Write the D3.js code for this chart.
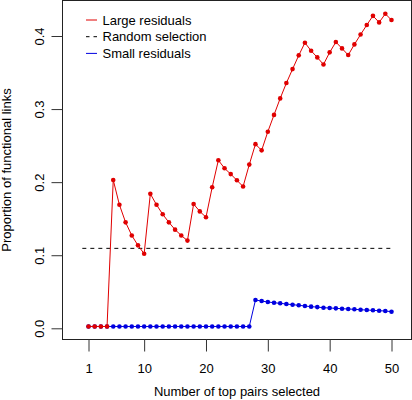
<!DOCTYPE html>
<html><head><meta charset="utf-8">
<script src="https://cdn.jsdelivr.net/npm/d3@7"></script>
<style>body{margin:0;background:#fff}svg{display:block;font-family:"Liberation Sans",Arial,sans-serif}</style>
</head><body>
<svg id="c" width="412" height="400"></svg>
<script>
const xValues = d3.range(1, 51);
const largeResiduals = [0.0025,0.0025,0.0025,0.0025,0.203,0.169,0.145,0.127,0.1135,0.102,
  0.184,0.169,0.156,0.145,0.135,0.127,0.120,0.170,0.160,0.152,
  0.193,0.230,0.219,0.211,0.2025,0.194,0.224,0.252,0.2435,0.269,
  0.292,0.3146,0.3356,0.3547,0.3735,0.3907,0.3798,0.3707,0.361,0.3776,
  0.3917,0.383,0.3739,0.3885,0.402,0.415,0.4276,0.4186,0.4304,0.4218];
const smallResiduals = [0.0025,0.0025,0.0025,0.0025,0.0025,0.0025,0.0025,0.0025,0.0025,0.0025,
  0.0025,0.0025,0.0025,0.0025,0.0025,0.0025,0.0025,0.0025,0.0025,0.0025,
  0.0025,0.0025,0.0025,0.0025,0.0025,0.0025,0.0025,0.0387,0.0373,0.036,
  0.035,0.0342,0.0332,0.0323,0.0315,0.0305,0.0296,0.029,0.0282,0.0278,
  0.0273,0.0268,0.0264,0.026,0.0254,0.025,0.0246,0.024,0.0237,0.0227];
const randomSelection = 0.1094;
const randomRange = [0, 50];
const xTicks = [1, 10, 20, 30, 40, 50];
const yTicks = [0, 0.1, 0.2, 0.3, 0.4];
const legendLabels = ["Large residuals", "Random selection", "Small residuals"];
const xTitle = "Number of top pairs selected";
const yTitle = "Proportion of functional links";

const svg = d3.select("#c");
const x = d3.scaleLinear().domain([1, 50]).range([88.5, 391.5]);
const y = d3.scaleLinear().domain([0, 0.4]).range([328.3, 36]);
const box = {l: 62.5, t: 0.5, r: 411.5, b: 339.5};

svg.append("rect").attr("x", box.l).attr("y", box.t)
  .attr("width", box.r - box.l).attr("height", box.b - box.t)
  .attr("fill", "none").attr("stroke", "#222").attr("stroke-width", 1);

// x axis
const xa = svg.append("g").attr("transform", `translate(0,${box.b})`)
  .call(d3.axisBottom(x).tickValues(xTicks).tickSize(12).tickSizeOuter(0).tickPadding(10).tickFormat(d3.format("d")));
xa.select(".domain").remove();
xa.selectAll("line").attr("stroke", "#333");
xa.selectAll("text").attr("font-size", 13).attr("fill", "#000").attr("dy", null).attr("y", 33.5);

// y axis
const ya = svg.append("g").attr("transform", `translate(${box.l},0)`)
  .call(d3.axisLeft(y).tickValues(yTicks).tickSize(11).tickSizeOuter(0).tickFormat(d3.format(".1f")));
ya.select(".domain").remove();
ya.selectAll("line").attr("stroke", "#333");
ya.selectAll("text").attr("font-size", 13).attr("fill", "#000")
  .attr("x", null).attr("dy", null).attr("text-anchor", "middle")
  .attr("transform", "translate(-19,0) rotate(-90)");

// titles
svg.append("text").attr("x", (box.l + box.r) / 2).attr("y", 395.5)
  .attr("text-anchor", "middle").attr("font-size", 13).text(xTitle);
svg.append("text").attr("transform", `translate(11,${(box.t + box.b) / 2}) rotate(-90)`)
  .attr("text-anchor", "middle").attr("font-size", 13).text(yTitle);

// random selection
svg.append("line").attr("x1", x(randomRange[0])).attr("x2", x(randomRange[1]))
  .attr("y1", y(randomSelection)).attr("y2", y(randomSelection))
  .attr("stroke", "#000").attr("stroke-dasharray", "4,4").attr("stroke-width", 1);

const line = d3.line().x((d, i) => x(xValues[i])).y(d => y(d));
function series(vals, col) {
  svg.append("path").datum(vals).attr("d", line).attr("fill", "none")
    .attr("stroke", col).attr("stroke-width", 1);
  svg.append("g").selectAll("circle").data(vals).join("circle")
    .attr("cx", (d, i) => x(xValues[i])).attr("cy", d => y(d)).attr("r", 2.3).attr("fill", col);
}
series(smallResiduals, "#0000e0");
series(largeResiduals, "#e00000");

// legend
const leg = [{c: "#e00000", d: null}, {c: "#000", d: "3.5,4"}, {c: "#0000e0", d: null}];
legendLabels.forEach((t, i) => {
  const yy = 20 + i * 16.7;
  svg.append("line").attr("x1", 86).attr("x2", 97).attr("y1", yy).attr("y2", yy)
    .attr("stroke", leg[i].c).attr("stroke-width", 1).attr("stroke-dasharray", leg[i].d);
  svg.append("text").attr("x", 102.5).attr("y", yy + 4.6).attr("font-size", 13).text(t);
});
</script>
</body></html>
